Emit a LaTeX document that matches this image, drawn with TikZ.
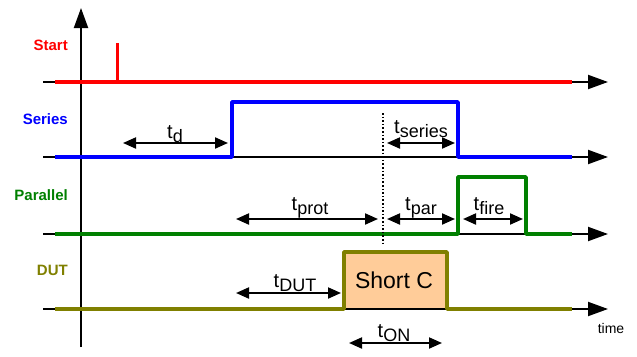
\documentclass[tikz,border=0pt]{standalone}
\usepackage{fontspec}
\setmainfont{Liberation Sans}
\usetikzlibrary{arrows.meta}
\definecolor{sred}{RGB}{255,0,0}
\definecolor{sblue}{RGB}{0,0,255}
\definecolor{sgreen}{RGB}{0,128,0}
\definecolor{solive}{RGB}{128,128,0}
\definecolor{sfill}{RGB}{255,204,153}
\newcommand{\tlab}[1]{\fontsize{20}{22}\selectfont t\raisebox{-4pt}{\fontsize{18}{20}\selectfont #1}}
\begin{document}
\begin{tikzpicture}[x=1pt,y=-1pt,
  axis/.style={line width=2pt,-{Triangle[length=20pt,width=14pt]}},
  sig/.style={line width=3.5pt,line join=round},
  dim/.style={line width=2pt,{Triangle[length=13pt,width=11pt]}-{Triangle[length=13pt,width=11pt]}},
  siglabel/.style={font=\fontsize{15}{17}\selectfont\bfseries,anchor=east,inner sep=0pt},
  tl/.style={inner sep=0pt,anchor=base}]
\useasboundingbox (0,0) rectangle (637,356);
% DUT box fill
\fill[sfill] (344,252) rectangle (447,309);
% axes
\coordinate (yb) at (81,347);
\coordinate (yt) at (81,8);
\draw[axis] (yb) -- (yt);
\foreach \n/\y in {s/82,r/157,p/234,d/309}{
  \coordinate (\n L) at (43,\y);
  \coordinate (\n R) at (608,\y);
  \draw[axis] (\n L) -- (\n R);
}
% signals
\draw[sig,sred] (55,82) -- (572,82);
\draw[sig,sred,line width=3pt] (117,82) -- (117,43);
\draw[sig,sblue] (55,157) -- (232,157) -- (232,102) -- (458,102) -- (458,157) -- (572,157);
\draw[sig,sgreen] (55,234) -- (458,234) -- (458,177) -- (526,177) -- (526,234) -- (572,234);
\draw[sig,solive] (55,309) -- (344,309) -- (344,252) -- (447,252) -- (447,309) -- (572,309);
% dotted line
\coordinate (dt) at (383,113);
\coordinate (db) at (383,246);
\draw[dotted,line width=1.6pt] (dt) -- (db);
% signal labels
\node[siglabel,text=sred]   (lstart) at (68,45)  {Start};
\node[siglabel,text=sblue]  (lser)   at (68,119) {Series};
\node[siglabel,text=sgreen] (lpar)   at (68,195) {Parallel};
\node[siglabel,text=solive] (ldut)   at (68,270) {DUT};
% dimension arrows
\coordinate (a1) at (123,143); \coordinate (b1) at (228,143);
\draw[dim] (a1) -- (b1);
\node[tl] (td) at (175,138) {\tlab{d}};
\coordinate (a2) at (387,143); \coordinate (b2) at (455,143);
\draw[dim] (a2) -- (b2);
\node[tl] (tser) at (421,133) {\tlab{series}};
\coordinate (a3) at (236,219); \coordinate (b3) at (378,219);
\draw[dim] (a3) -- (b3);
\node[tl] (tprot) at (310,210) {\tlab{prot}};
\coordinate (a4) at (387,219); \coordinate (b4) at (455,219);
\draw[dim] (a4) -- (b4);
\node[tl] (tpar) at (421,210) {\tlab{par}};
\coordinate (a5) at (463,219); \coordinate (b5) at (523,219);
\draw[dim] (a5) -- (b5);
\node[tl] (tfire) at (489,210) {\tlab{fire}};
\coordinate (a6) at (236,293); \coordinate (b6) at (341,293);
\draw[dim] (a6) -- (b6);
\node[tl] (tdut) at (295,287) {\tlab{DUT}};
\coordinate (a7) at (349,343); \coordinate (b7) at (442,343);
\draw[dim] (a7) -- (b7);
\node[tl] (ton) at (394,337) {\tlab{ON}};
% box text
\node[tl,font=\fontsize{23}{25}\selectfont] (sc) at (394,288) {Short C};
\node[tl,font=\fontsize{14}{16}\selectfont] (time) at (611,333) {time};
\end{tikzpicture}
\end{document}
